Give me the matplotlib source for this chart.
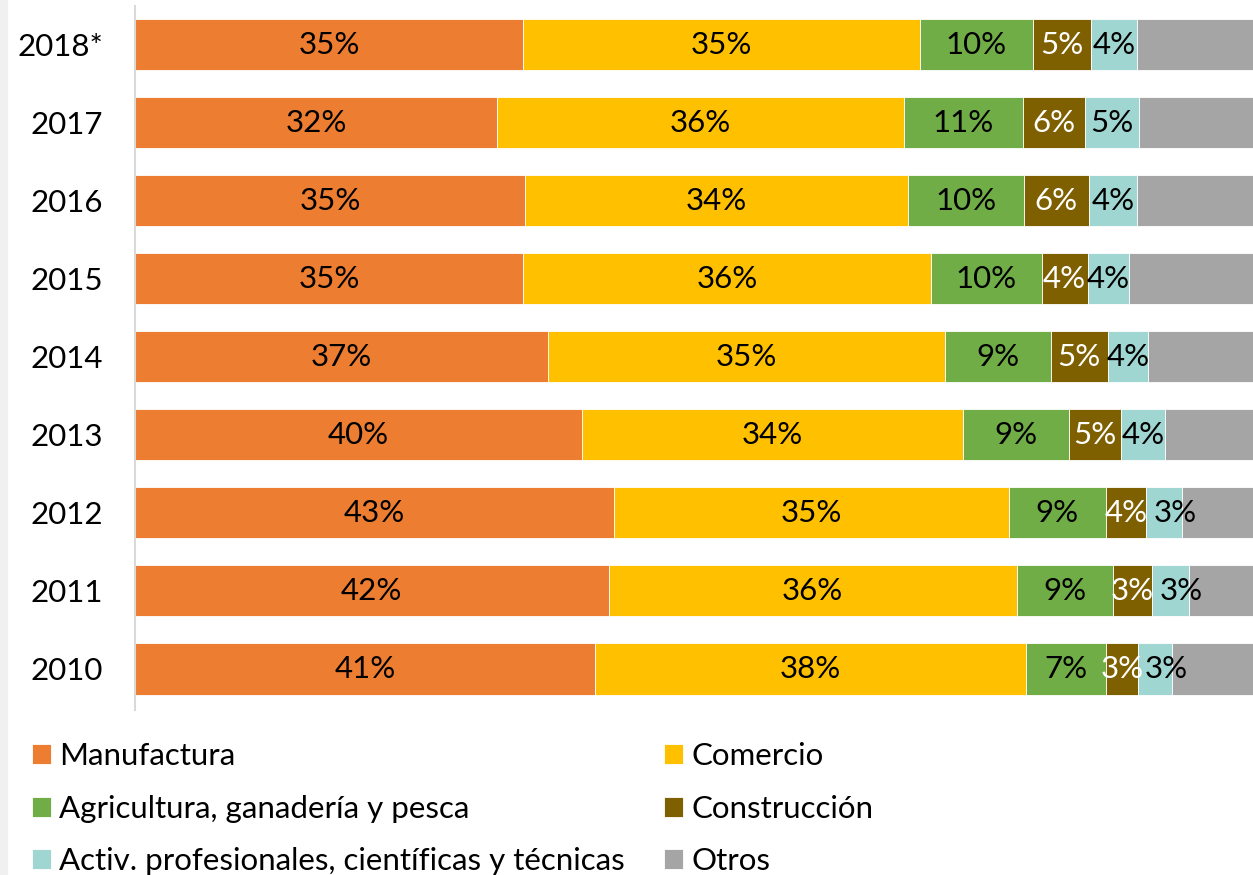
import numpy as np
import matplotlib.pyplot as plt
from matplotlib.patches import Rectangle

plt.rcParams['font.family'] = ['Lato', 'DejaVu Sans']

# years from bottom to top
years = ["2010", "2011", "2012", "2013", "2014", "2015", "2016", "2017", "2018*"]

manufactura = [41.0, 42.2, 42.7, 39.8, 36.8, 34.6, 34.8, 32.3, 34.6]
comercio = [38.4, 36.4, 35.2, 34.0, 35.4, 36.3, 34.1, 36.2, 35.4]
agricultura = [7.1, 8.6, 8.6, 9.4, 9.4, 9.9, 10.3, 10.6, 10.0]
construccion = [2.9, 3.4, 3.6, 4.7, 5.1, 4.1, 5.8, 5.6, 5.2]
activ = [3.0, 3.3, 3.2, 3.9, 3.6, 3.7, 4.3, 4.8, 4.1]
otros = [7.6, 6.1, 6.7, 8.2, 9.7, 11.4, 10.7, 10.5, 10.7]

series = [
    ("Manufactura", manufactura, "#ED7D31", "black"),
    ("Comercio", comercio, "#FFC000", "black"),
    ("Agricultura, ganadería y pesca", agricultura, "#70AD47", "black"),
    ("Construcción", construccion, "#7F6000", "white"),
    ("Activ. profesionales, científicas y técnicas", activ, "#A0D6D2", "black"),
    ("Otros", otros, "#A5A5A5", None),
]

fs = 22.5

fig = plt.figure(figsize=(12.53, 8.75), dpi=100)
fig.patches.append(Rectangle((0, 0), 7 / 1253, 1, transform=fig.transFigure,
                             color="#f0f0f0", zorder=0))
ax = fig.add_axes([135 / 1253, 1 - 710 / 875, 1 - 135 / 1253, 704 / 875])

y = np.arange(len(years))
left = np.zeros(len(years))
handles = []
for name, vals, color, tcolor in series:
    vals = np.array(vals)
    bars = ax.barh(y, vals, left=left, height=0.655, color=color,
                   edgecolor="white", linewidth=0.6, label=name)
    handles.append(bars)
    if tcolor is not None:
        for yi, l, v in zip(y, left, vals):
            # thin segments get their label nudged right, as in the original
            dx = 8 if v < 3.5 and tcolor == "black" else 0
            ax.annotate(f"{round(v)}%", (l + v / 2, yi), xytext=(dx, 0),
                        textcoords="offset points", ha="center", va="center",
                        color=tcolor, fontsize=fs)
    left += vals

ax.set_xlim(0, 99.64)
ax.set_ylim(-0.526, 8.494)
ax.set_yticks(y)
ax.set_yticklabels(years, fontsize=fs)
ax.tick_params(axis="y", length=0, pad=23)
ax.set_xticks([])
for s in ["top", "right", "bottom"]:
    ax.spines[s].set_visible(False)
ax.spines["left"].set_color("#d9d9d9")
ax.spines["left"].set_linewidth(1.5)

# legend, filled row by row like the original
order = [0, 2, 4, 1, 3, 5]
fig.legend([handles[i] for i in order], [series[i][0] for i in order],
           loc="upper left", bbox_to_anchor=(32 / 1253, 1 - 742 / 875),
           ncol=2, frameon=False, fontsize=fs,
           handlelength=0.6, handleheight=0.6, handletextpad=0.27,
           labelspacing=0.79, columnspacing=1.25, borderaxespad=0, borderpad=0)

fig.savefig("out.png", dpi=100)
